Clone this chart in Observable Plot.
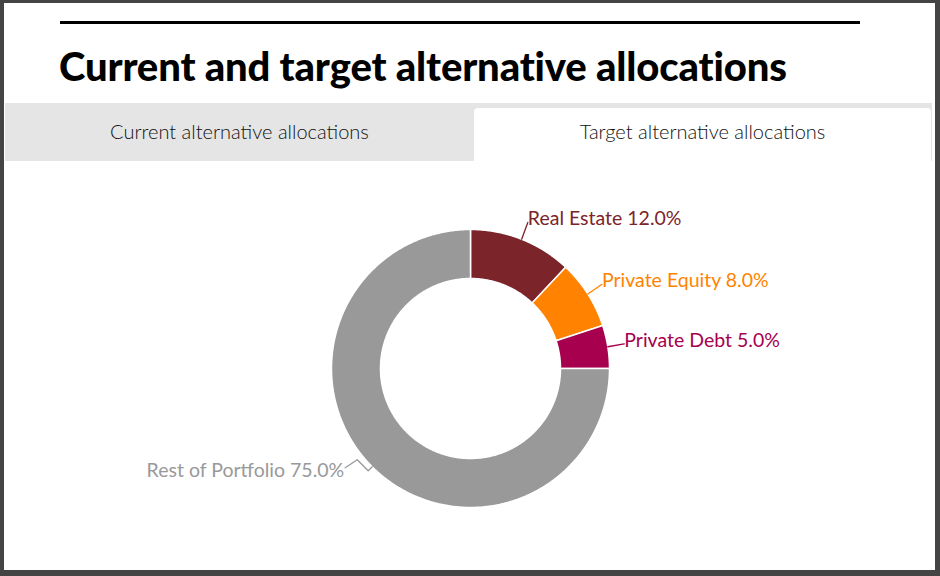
<!DOCTYPE html>
<html>
<head>
<meta charset="utf-8">
<script src="https://cdn.jsdelivr.net/npm/d3@7"></script>
<script src="https://cdn.jsdelivr.net/npm/@observablehq/plot@0.6"></script>
<style>
  html, body { margin: 0; padding: 0; background: #444444; width: 940px; height: 576px; overflow: hidden; }
  #frame { position: absolute; left: 4px; top: 3px; width: 931px; height: 567px; background: #ffffff; }
  #rule { position: absolute; left: 60px; top: 21px; width: 800px; height: 3px; background: #000; }
  #title { position: absolute; left: 59px; top: 42px; font-family: Lato, sans-serif; font-weight: 900; font-size: 40px; color: #000; white-space: nowrap; letter-spacing: -0.15px; }
  #tabs { position: absolute; left: 5px; top: 103px; width: 927px; height: 58px; background: #e5e5e5; }
  .tab { position: absolute; font-family: Lato, sans-serif; font-weight: 300; font-size: 20px; color: #111; text-align: center; }
  #tab1 { left: 5px; top: 103px; width: 469px; height: 58px; line-height: 57px; }
  #tab2 { left: 474px; top: 108px; width: 457px; height: 53px; line-height: 47px; background: #fff; border-radius: 4px 4px 0 0; }
  #chart { position: absolute; left: 0; top: 161px; }
</style>
</head>
<body>
<div id="frame"></div>
<div id="rule"></div>
<div id="title">Current and target alternative allocations</div>
<div id="tabs"></div>
<div class="tab" id="tab1">Current alternative allocations</div>
<div class="tab" id="tab2">Target alternative allocations</div>
<div id="chart"></div>
<script>
// Data
const categories = ["Real Estate", "Private Equity", "Private Debt", "Rest of Portfolio"];
const shares = [12.0, 8.0, 5.0, 75.0];
const colors = ["#7b2429", "#ff8300", "#a6004e", "#999999"];

// Geometry (unit = outer radius)
const W = 940, H = 409, R = 139, CX = 470, CY = 207;
const inner = 90 / 139;
const pie = d3.pie().sort(null).value(d => d)(shares);

const polys = [];
pie.forEach((p, i) => {
  const n = Math.max(2, Math.ceil((p.endAngle - p.startAngle) / 0.01));
  for (let k = 0; k <= n; k++) {
    const a = p.startAngle + (p.endAngle - p.startAngle) * k / n;
    polys.push({name: categories[i], x: Math.sin(a), y: Math.cos(a)});
  }
  for (let k = n; k >= 0; k--) {
    const a = p.startAngle + (p.endAngle - p.startAngle) * k / n;
    polys.push({name: categories[i], x: inner * Math.sin(a), y: inner * Math.cos(a)});
  }
});

// leader lines: right side straight, left side with a small zigzag (offsets in px)
const zig = [[0, 0], [-4, -4], [-15, 7], [-27, -1]];
const leaders = [];
const labels = pie.map((p, i) => {
  const a = (p.startAngle + p.endAngle) / 2;
  const sx = Math.sin(a), sy = Math.cos(a);
  const right = sx >= 0;
  let lx, ly;
  if (right) {
    lx = 1.12 * sx; ly = 1.13 * sy;
    leaders.push({name: categories[i], x: sx, y: sy}, {name: categories[i], x: lx, y: ly});
  } else {
    zig.forEach(([dx, dy]) => leaders.push({name: categories[i], x: sx + dx / R, y: sy + dy / R}));
    lx = sx + zig[3][0] / R; ly = sy + zig[3][1] / R;
  }
  return {name: categories[i], text: `${categories[i]} ${shares[i].toFixed(1)}%`, x: lx, y: ly, right};
});

const chart = Plot.plot({
  width: W, height: H,
  margin: 0,
  x: {domain: [-CX / R, (W - CX) / R], axis: null},
  y: {domain: [-(H - CY) / R, CY / R], axis: null},
  color: {domain: categories, range: colors},
  style: {fontFamily: "Lato, sans-serif", background: "transparent"},
  marks: [
    Plot.line(polys, {x: "x", y: "y", z: "name", fill: "name", stroke: "#ffffff", strokeWidth: 1.5, curve: "linear-closed"}),
    Plot.line(leaders, {x: "x", y: "y", z: "name", stroke: "name", strokeWidth: 1.3}),
    Plot.text(labels.filter(d => d.right), {x: "x", y: "y", text: "text", fill: "name", textAnchor: "start", lineAnchor: "bottom", dx: 0, dy: 3, fontSize: 19.5}),
    Plot.text(labels.filter(d => !d.right), {x: "x", y: "y", text: "text", fill: "name", textAnchor: "end", lineAnchor: "middle", dx: -1, dy: 3, fontSize: 19.5})
  ]
});
document.getElementById("chart").appendChild(chart);
</script>
</body>
</html>
